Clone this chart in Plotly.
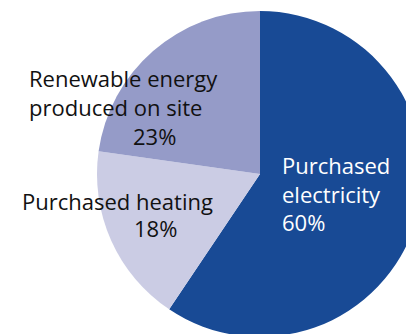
import plotly.graph_objects as go

# Energy mix shares (%)
names = ["Purchased electricity", "Purchased heating", "Renewable energy produced on site"]
name_lines = ["Purchased<br>electricity", "Purchased heating", "Renewable energy<br>produced on site"]
shares = [60, 18, 23]
colors = ["#184a95", "#cbcce4", "#959bc8"]
text_colors = ["white", "#111111", "#111111"]

# Pixel geometry of the plotting area (pie is 326 px across, partly off-canvas)
L, T, SIZE = 97, 11, 326


def px(x):
    return (x - L) / SIZE


def py(y):
    return 1 - (y - T) / SIZE


fig = go.Figure(
    go.Pie(
        labels=names,
        values=shares,
        sort=False,
        direction="clockwise",
        rotation=0,
        marker=dict(colors=colors, line=dict(width=0)),
        textinfo="none",
        hoverinfo="label+percent",
        showlegend=False,
    )
)

FONT = "Open Sans"
FS = 22

annotations = []


def add_text(text, x, y, anchor, align, color):
    annotations.append(dict(
        x=px(x), y=py(y), xref="paper", yref="paper",
        text=text, showarrow=False, xanchor=anchor, yanchor="top",
        align=align, font=dict(family=FONT, size=FS, color=color),
    ))


# Purchased electricity: name and share in one left-aligned block
add_text(f"{name_lines[0]}<br>{shares[0]}%", 280, 148, "left", "left", text_colors[0])
# Purchased heating: name, then share offset to the right below it
add_text(name_lines[1], 117, 184, "center", "center", text_colors[1])
add_text(f"{shares[1]}%", 155, 211, "center", "center", text_colors[1])
# Renewable energy: two-line name, then share below
add_text(name_lines[2], 27, 61, "left", "left", text_colors[2])
add_text(f"{shares[2]}%", 154, 119, "center", "center", text_colors[2])

fig.update_layout(
    width=L + SIZE,
    height=T + SIZE,
    margin=dict(l=L, r=0, t=T, b=0, pad=0),
    paper_bgcolor="white",
    plot_bgcolor="white",
    annotations=annotations,
)

fig.write_html("out.html", post_script="document.body.style.overflow='hidden';document.body.style.margin='0';")
